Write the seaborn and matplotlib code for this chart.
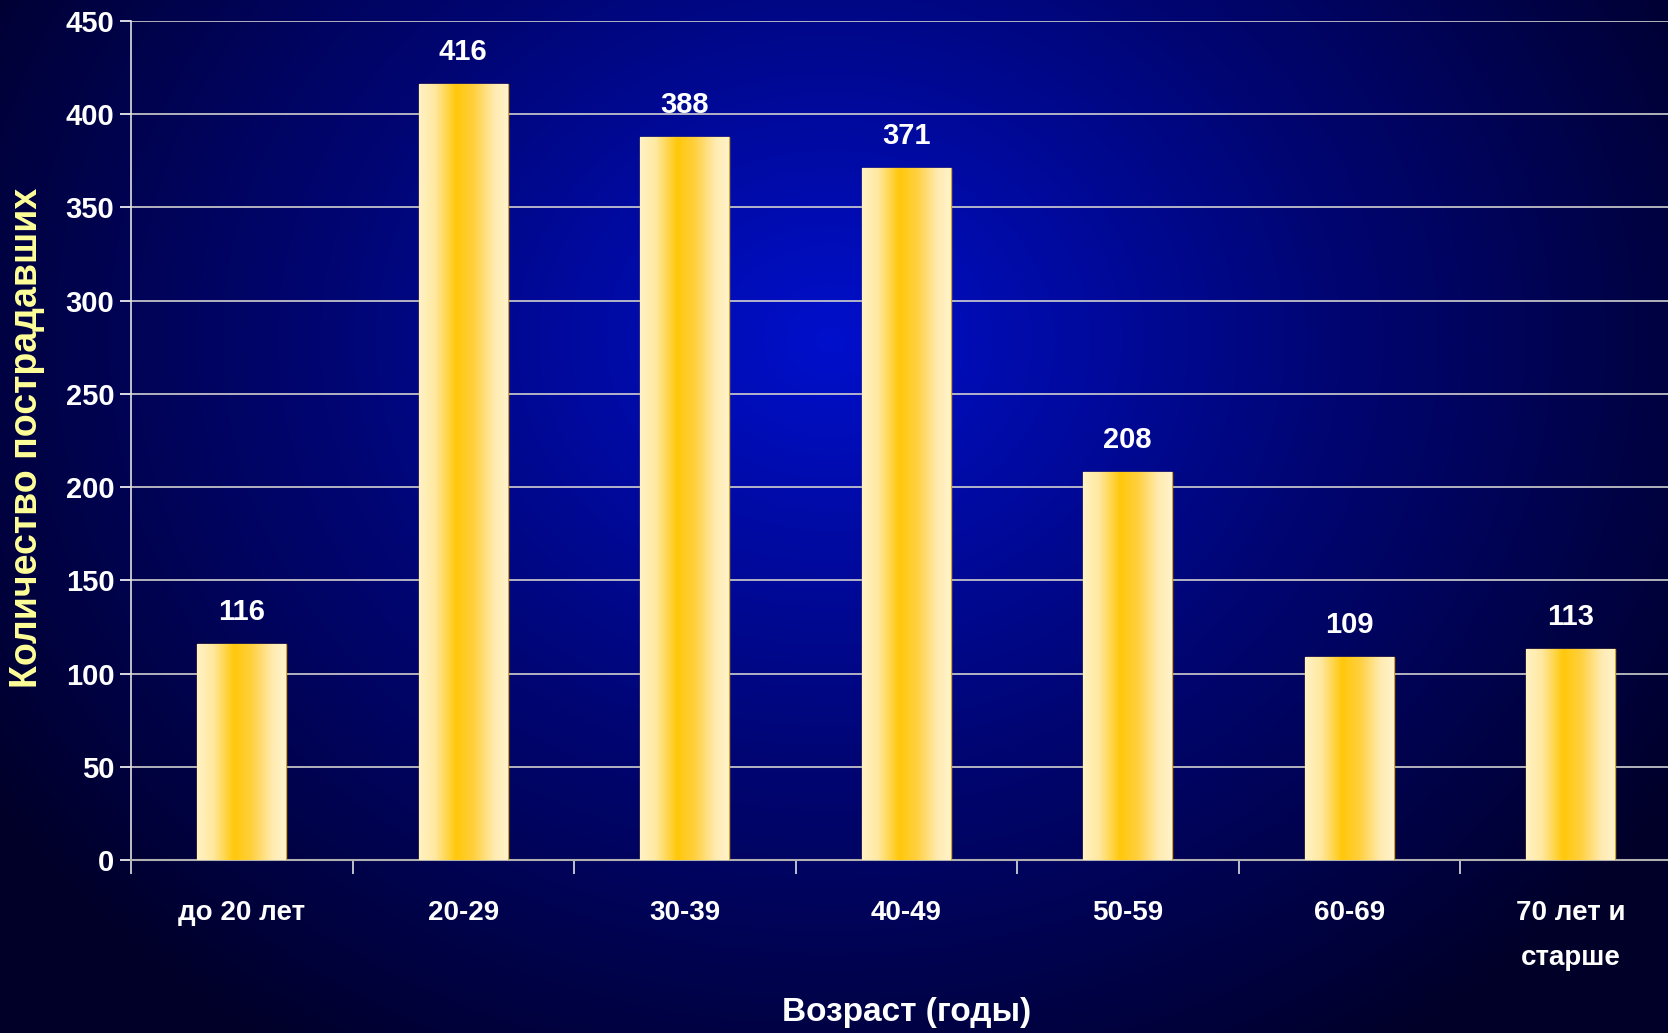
import numpy as np
import pandas as pd
import matplotlib
matplotlib.use("Agg")
import matplotlib.pyplot as plt
import seaborn as sns
from matplotlib.colors import LinearSegmentedColormap

categories = ["до 20 лет", "20-29", "30-39", "40-49", "50-59", "60-69", "70 лет и\nстарше"]
values = [116, 416, 388, 371, 208, 109, 113]
y_ticks = [0, 50, 100, 150, 200, 250, 300, 350, 400, 450]
x_label = "Возраст (годы)"
y_label = "Количество пострадавших"

sns.set_theme(style="white")
plt.rcParams['font.family'] = ['Liberation Sans', 'DejaVu Sans']

W, H = 1668, 1033
fig = plt.figure(figsize=(W / 100, H / 100), dpi=100)

# radial gradient background
bg = fig.add_axes([0, 0, 1, 1], zorder=-10)
yy, xx = np.mgrid[0:H, 0:W]
cx, cy = 830, 340
r = np.sqrt(((xx - cx) / 1.0) ** 2 + ((yy - cy) / 0.85) ** 2)
t = np.clip(r / 1000, 0, 1)
c0 = np.array([0.0, 0.06, 0.80])
c1 = np.array([0.0, 0.02, 0.45])
c2 = np.array([0.0, 0.0, 0.16])
img = np.where(t[..., None] < 0.5,
               c0 + (c1 - c0) * (t[..., None] / 0.5),
               c1 + (c2 - c1) * ((t[..., None] - 0.5) / 0.5))
bg.imshow(img, extent=[0, 1, 0, 1], aspect='auto', origin='upper')
bg.axis('off')

left = 131 / W
bottom = (H - 860) / H
top = 1 - 21 / H
width = 7 * 221.5 / W
ax = fig.add_axes([left, bottom, width, top - bottom])
ax.set_facecolor('none')

df = pd.DataFrame({"cat": categories, "val": values})
sns.barplot(data=df, x="cat", y="val", ax=ax, width=0.4, color="#FFD54A",
            edgecolor="#D9A520", linewidth=1.0, zorder=3)

ax.set_ylim(0, 450)
ax.set_xlim(-0.5, 6.5)
ax.set_yticks(y_ticks)
ax.grid(axis='y', color='#D0D0D0', linewidth=1.2, zorder=0)
ax.grid(axis='x', visible=False)

# gradient fill on bars
cmap = LinearSegmentedColormap.from_list("gold", [
    (0.0, "#FFF2C4"), (0.18, "#FFE8A0"), (0.42, "#FFC80A"),
    (0.62, "#FFD040"), (0.85, "#FFEBB0"), (1.0, "#FFF3CC")])
grad = np.linspace(0, 1, 256)[None, :]
for p in ax.patches:
    x0, y0 = p.get_x(), p.get_y()
    w, h = p.get_width(), p.get_height()
    im = ax.imshow(grad, cmap=cmap, extent=[x0, x0 + w, y0, y0 + h],
                   aspect='auto', zorder=3.5, interpolation='bicubic')
    im.set_clip_path(p)

ax.set_xlim(-0.5, 6.5)
ax.set_ylim(0, 450)

for i, v in enumerate(values):
    ax.annotate(str(v), (i, v), xytext=(0, 13), textcoords='offset points',
                ha='center', va='bottom', color='white', fontsize=21,
                fontweight='bold')

for s in ['top', 'right']:
    ax.spines[s].set_visible(False)
ax.spines['left'].set_color('#E0E0E0')
ax.spines['left'].set_linewidth(1.2)
ax.spines['bottom'].set_color('#B0B0B0')
ax.spines['bottom'].set_linewidth(1.5)

ax.tick_params(axis='y', colors='white', labelcolor='white', labelsize=21,
               length=8, width=1.2, left=True, direction='out', pad=4)
for lbl in ax.get_yticklabels():
    lbl.set_fontweight('bold')

ax.set_xticks(range(len(categories)))
ax.set_xticklabels(categories, color='white', fontsize=20, fontweight='bold',
                   linespacing=1.95)
ax.tick_params(axis='x', length=0, pad=29)
ax.set_xticks(np.arange(-0.5, 7.0, 1.0), minor=True)
ax.tick_params(axis='x', which='minor', length=10, width=1.2, color='#E0E0E0',
               bottom=True, direction='out')

ax.set_xlabel("")
ax.set_ylabel("")
fig.text(907 / W, 1 - 1012 / H, x_label, ha='center', va='center', color='white',
         fontsize=24, fontweight='bold')
fig.text(27 / W, 1 - 438 / H, y_label, ha='center', va='center', rotation=90,
         color='#FFFF99', fontsize=27, fontweight='bold')

fig.savefig("out.png", dpi=100)
